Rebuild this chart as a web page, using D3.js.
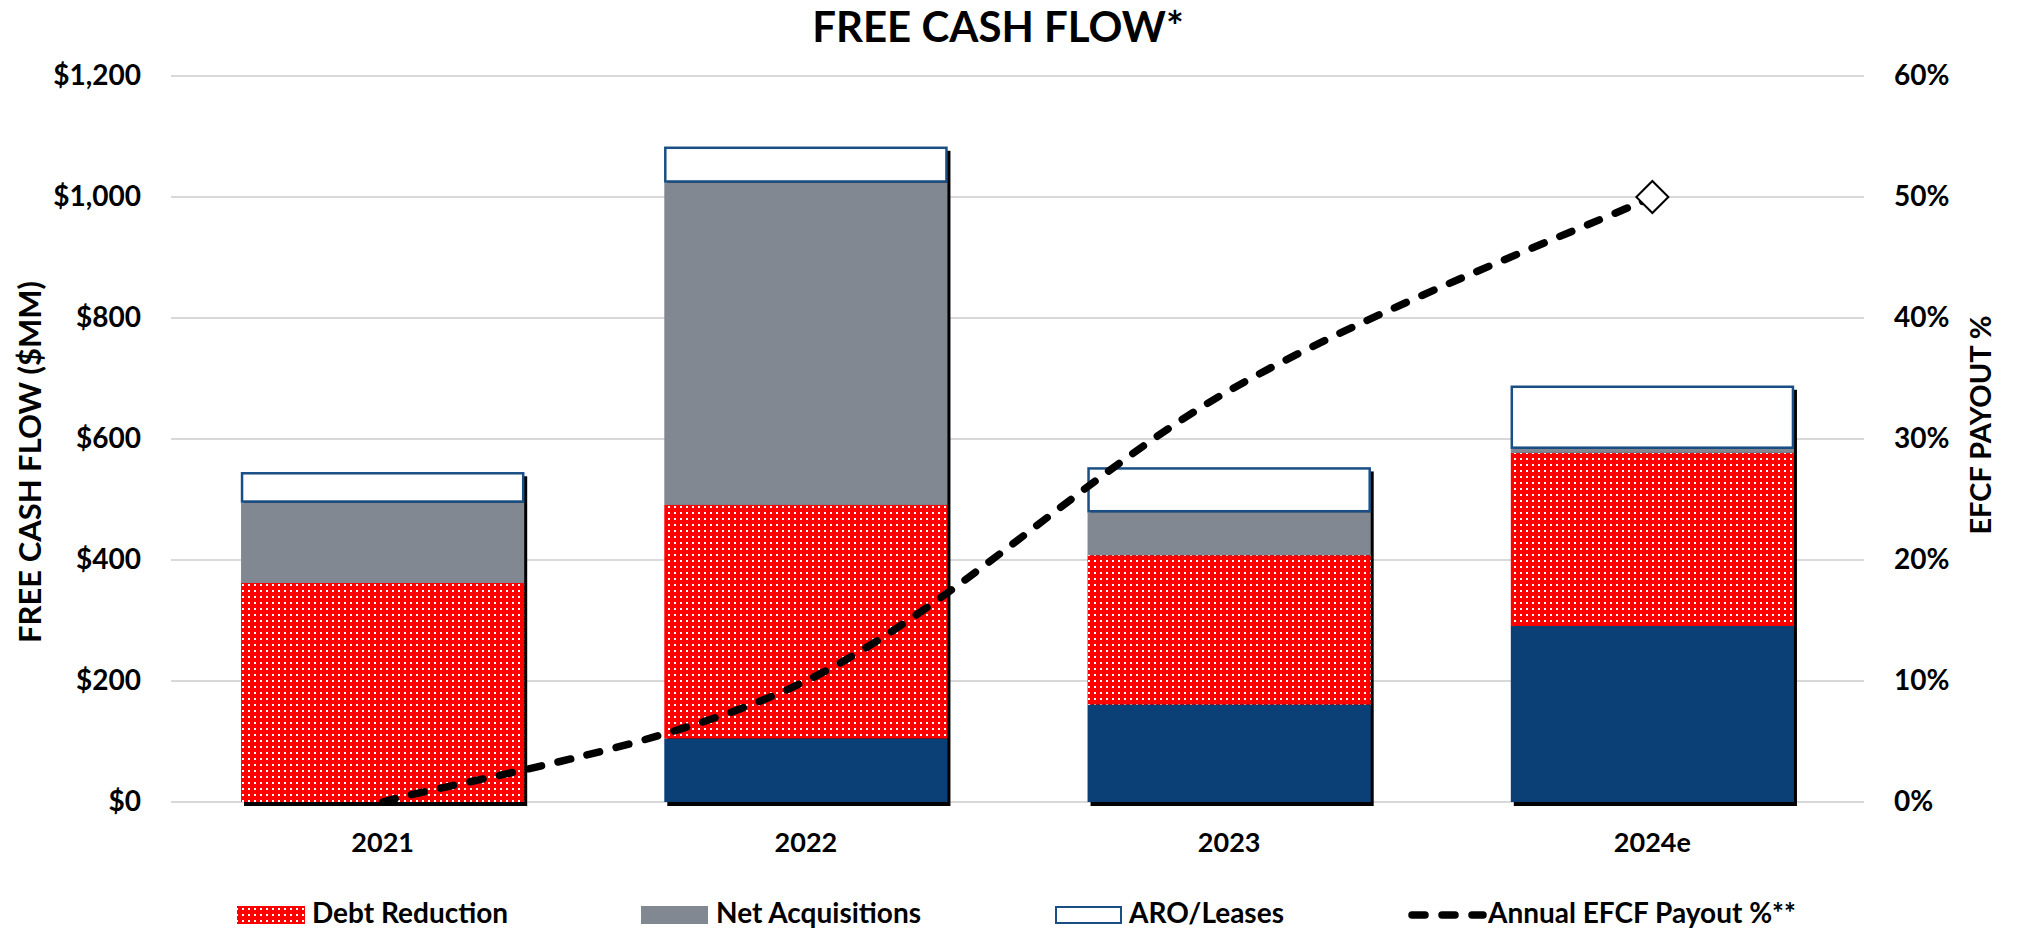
<!DOCTYPE html>
<html><head><meta charset="utf-8">
<script src="https://cdn.jsdelivr.net/npm/d3@7"></script>
<style>
body{margin:0;background:#fff}
text{font-family:Lato,"Open Sans",sans-serif;font-weight:bold;fill:#000}
</style>
</head><body>
<svg id="chart" width="2018" height="931"></svg>
<script>
// ---- data ----
const categories = ["2021", "2022", "2023", "2024e"];
const shareholderReturns = [0, 105, 161, 291];
const debtReduction = [362, 386, 247, 286];
const netAcquisitions = [133, 533, 71, 7];
const aroLeases = [50, 59, 74, 104];
const payoutPct = [0, 10, 34, 50];
const leftTicks = [0, 200, 400, 600, 800, 1000, 1200];
const rightTicks = [0, 10, 20, 30, 40, 50, 60];
const seriesKeys = ["Shareholder Returns", "Debt Reduction", "Net Acquisitions", "ARO/Leases"];
const legendLabels = ["Debt Reduction", "Net Acquisitions", "ARO/Leases", "Annual EFCF Payout %**"];
const titleText = "FREE CASH FLOW*";
const leftTitle = "FREE CASH FLOW ($MM)";
const rightTitle = "EFCF PAYOUT %";

// ---- layout ----
const svg = d3.select("#chart");
const plotL = 171, plotR = 1864, plotT = 76, plotB = 802;
const NAVY = "#0B4077", GRAY = "#818891", RED = "#FF0000", AROSTROKE = "#1A4F86";

const defs = svg.append("defs");
const pat = defs.append("pattern").attr("id", "dots").attr("patternUnits", "userSpaceOnUse")
  .attr("width", 6).attr("height", 6);
pat.append("rect").attr("width", 6).attr("height", 6).attr("fill", RED);
pat.append("rect").attr("x", 2).attr("y", 2).attr("width", 2).attr("height", 2).attr("fill", "#fff");

const x = d3.scaleBand().domain(categories).range([plotL, plotR]).paddingInner(0.331).paddingOuter(0.1655);
const y = d3.scaleLinear().domain([0, 1200]).range([plotB, plotT]);
const y2 = d3.scaleLinear().domain([0, 60]).range([plotB, plotT]);
const bw = x.bandwidth();

// gridlines
svg.append("g").selectAll("line").data(leftTicks).join("line")
  .attr("x1", plotL).attr("x2", plotR)
  .attr("y1", d => y(d)).attr("y2", d => y(d))
  .attr("stroke", "#D9D9D9").attr("stroke-width", 2);

// axes
const gL = svg.append("g").attr("transform", `translate(${plotL},0)`)
  .call(d3.axisLeft(y).tickValues(leftTicks).tickSize(0).tickPadding(30)
    .tickFormat(d => "$" + d3.format(",")(d)));
const gR = svg.append("g").attr("transform", `translate(${plotR},0)`)
  .call(d3.axisRight(y2).tickValues(rightTicks).tickSize(0).tickPadding(30)
    .tickFormat(d => d + "%"));
const gB = svg.append("g").attr("transform", `translate(0,${plotB})`)
  .call(d3.axisBottom(x).tickSize(0).tickPadding(31));
[gL, gR, gB].forEach(g => {
  g.select(".domain").remove();
  g.selectAll("text").attr("font-family", "Lato").attr("font-weight", "bold").attr("fill", "#000");
});
gL.selectAll("text").attr("font-size", 28);
gR.selectAll("text").attr("font-size", 28);
gB.selectAll("text").attr("font-size", 27);

// stacked data
const rows = categories.map((c, i) => ({
  cat: c,
  "Shareholder Returns": shareholderReturns[i],
  "Debt Reduction": debtReduction[i],
  "Net Acquisitions": netAcquisitions[i],
  "ARO/Leases": aroLeases[i]
}));
const stacked = d3.stack().keys(seriesKeys)(rows);
const totals = rows.map(r => seriesKeys.reduce((s, k) => s + r[k], 0));

// shadows
svg.append("g").selectAll("rect").data(rows).join("rect")
  .attr("x", d => x(d.cat) + 3)
  .attr("y", (d, i) => y(totals[i]) + 4)
  .attr("width", bw)
  .attr("height", (d, i) => y(0) - y(totals[i]))
  .attr("fill", "#000");

const fills = { "Shareholder Returns": NAVY, "Debt Reduction": "url(#dots)", "Net Acquisitions": GRAY, "ARO/Leases": "#fff" };
stacked.forEach(s => {
  const isAro = s.key === "ARO/Leases";
  svg.append("g").selectAll("rect").data(s).join("rect")
    .attr("x", d => x(d.data.cat) + (isAro ? 1 : 0))
    .attr("y", d => y(d[1]) + (isAro ? 1 : 0))
    .attr("width", bw - (isAro ? 2 : 0))
    .attr("height", d => Math.max(0, y(d[0]) - y(d[1]) - (isAro ? 2 : 0)))
    .attr("fill", fills[s.key])
    .attr("stroke", isAro ? AROSTROKE : "none")
    .attr("stroke-width", isAro ? 2.5 : 0);
});

// payout line — spreadsheet-style smoothing (Bezier, 1/6 neighbour tangents)
const lineData = categories.map((c, i) => [x(c) + bw / 2, y2(payoutPct[i])]);
function smoothPath(pts) {
  const p = d3.path();
  p.moveTo(pts[0][0], pts[0][1]);
  for (let i = 0; i < pts.length - 1; i++) {
    const p0 = pts[Math.max(0, i - 1)], p1 = pts[i], p2 = pts[i + 1], p3 = pts[Math.min(pts.length - 1, i + 2)];
    p.bezierCurveTo(
      p1[0] + (p2[0] - p0[0]) / 6, p1[1] + (p2[1] - p0[1]) / 6,
      p2[0] - (p3[0] - p1[0]) / 6, p2[1] - (p3[1] - p1[1]) / 6,
      p2[0], p2[1]);
  }
  return p.toString();
}
svg.append("path")
  .attr("d", smoothPath(lineData))
  .attr("fill", "none").attr("stroke", "#000").attr("stroke-width", 7.5)
  .attr("stroke-linecap", "round").attr("stroke-dasharray", "13,17");
const last = lineData[lineData.length - 1];
svg.append("path")
  .attr("d", d3.symbol(d3.symbolSquare, 512)())
  .attr("transform", `translate(${last[0]},${last[1]}) rotate(45)`)
  .attr("fill", "#fff").attr("stroke", "#000").attr("stroke-width", 2);

// titles
svg.append("text").attr("x", 998).attr("y", 42).attr("text-anchor", "middle")
  .attr("font-size", 42).text(titleText);
svg.append("text").attr("transform", "translate(41,462) rotate(-90)").attr("text-anchor", "middle")
  .attr("font-size", 31).text(leftTitle);
svg.append("text").attr("transform", "translate(1991,425) rotate(-90)").attr("text-anchor", "middle")
  .attr("font-size", 29).text(rightTitle);

// legend
const leg = svg.append("g");
const legY = 906, legH = 18, legBase = 923;
leg.append("rect").attr("x", 237).attr("y", legY).attr("width", 68).attr("height", legH).attr("fill", "url(#dots)");
leg.append("text").attr("x", 312).attr("y", legBase).attr("font-size", 28).text(legendLabels[0]);
leg.append("rect").attr("x", 641).attr("y", legY).attr("width", 67).attr("height", legH).attr("fill", GRAY);
leg.append("text").attr("x", 716).attr("y", legBase).attr("font-size", 28).text(legendLabels[1]);
leg.append("rect").attr("x", 1056).attr("y", legY + 1).attr("width", 65).attr("height", legH - 2)
  .attr("fill", "#fff").attr("stroke", AROSTROKE).attr("stroke-width", 2);
leg.append("text").attr("x", 1129).attr("y", legBase).attr("font-size", 28).text(legendLabels[2]);
leg.append("line").attr("x1", 1412).attr("x2", 1483).attr("y1", legY + 9).attr("y2", legY + 9)
  .attr("stroke", "#000").attr("stroke-width", 7.5).attr("stroke-linecap", "round")
  .attr("stroke-dasharray", "13,17");
leg.append("text").attr("x", 1488).attr("y", legBase).attr("font-size", 28).text(legendLabels[3]);
</script>
</body></html>
